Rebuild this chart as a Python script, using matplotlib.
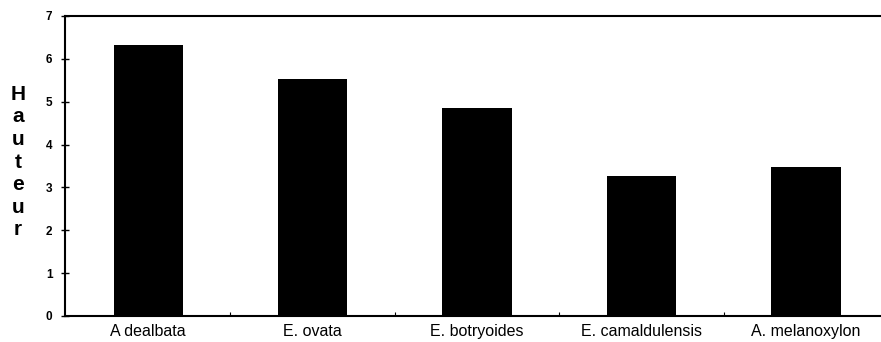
import matplotlib
matplotlib.use("Agg")
import matplotlib.pyplot as plt
import numpy as np

species = ["A dealbata", "E. ovata", "E. botryoides", "E. camaldulensis", "A. melanoxylon"]
hauteur = [6.32, 5.53, 4.85, 3.27, 3.48]

plt.rcParams['font.family'] = ['Liberation Sans', 'DejaVu Sans']

fig = plt.figure(figsize=(8.81, 3.42), dpi=100)
ax = fig.add_axes([65 / 881, 1 - 316 / 342, (881 - 65) / 881, 300 / 342])

x = np.arange(len(species))
ax.bar(x, hauteur, width=0.42, color="black")

ax.set_xlim(-0.505, 4.456)
ax.set_ylim(0, 7)
ax.set_yticks(range(8))
ax.set_yticklabels([str(i) for i in range(8)], fontsize=8.5, fontweight="bold")
ax.tick_params(axis="y", direction="inout", length=6, width=1, pad=6)
ax.set_xticks(x)
ax.set_xticklabels(species, fontsize=11.5)
ax.tick_params(axis="x", length=0, pad=6)
ax.set_xticks(x[:-1] + 0.5, minor=True)
ax.tick_params(axis="x", which="minor", direction="in", length=3, width=0.8)

ax.spines["right"].set_visible(False)
for s in ["left", "bottom", "top"]:
    ax.spines[s].set_linewidth(1.5)

fig.text(18 / 881, 1 - 162 / 342, "\n".join("Hauteur"), ha="center", va="center",
         fontsize=15, fontweight="bold", linespacing=1.24)

fig.savefig("out.png", dpi=100)
